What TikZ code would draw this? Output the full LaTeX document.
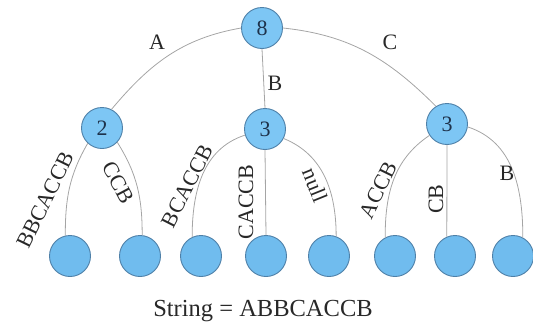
\documentclass[tikz,border=0pt]{standalone}
\usepackage{fontspec}
\setmainfont{Liberation Serif}
\definecolor{nodefill}{RGB}{125,198,244}
\definecolor{leaffill}{RGB}{112,188,238}
\definecolor{nodeline}{RGB}{78,128,168}
\definecolor{edgecol}{RGB}{165,165,165}
\definecolor{numcol}{RGB}{30,50,75}
\definecolor{txtcol}{RGB}{40,40,40}
\begin{document}
\begin{tikzpicture}[x=1pt,y=1pt,
  inner/.style={circle, draw=nodeline, line width=0.9pt, fill=nodefill, minimum size=41pt, inner sep=0pt, font=\fontsize{22}{24}\selectfont, text=numcol},
  leaf/.style={circle, draw=nodeline, line width=0.9pt, fill=leaffill, minimum size=41pt, inner sep=0pt},
  edge/.style={draw=edgecol, line width=0.8pt},
  lbl/.style={inner sep=0pt, font=\fontsize{22}{24}\selectfont, text=txtcol}]
\useasboundingbox (0,0) rectangle (533,-325);
% internal nodes
\node[inner] (root) at (262,-28) {8};
\node[inner] (n2) at (102,-128) {2};
\node[inner] (n3m) at (265,-129) {3};
\node[inner] (n3r) at (447,-124) {3};
% leaves
\node[leaf] (l1) at (70,-256) {};
\node[leaf] (l2) at (140,-256) {};
\node[leaf] (l3) at (201,-256) {};
\node[leaf] (l4) at (266,-256) {};
\node[leaf] (l5) at (329,-256) {};
\node[leaf] (l6) at (395,-256) {};
\node[leaf] (l7) at (455,-256) {};
\node[leaf] (l8) at (513,-256) {};
% edges
\draw[edge] (root.west) to[out=190, in=50] (n2.63);
\draw[edge] (root.south) -- (n3m.north);
\draw[edge] (root.east) to[out=-6, in=135] (n3r.122);
\draw[edge] (n2.227) to[out=240, in=90] (l1.103);
\draw[edge] (n2.317) to[out=-58, in=90] (l2.84);
\draw[edge] (n3m.197) to[out=198, in=90] (l3.115);
\draw[edge] (n3m.south) -- (l4.north);
\draw[edge] (n3m.333) to[out=-22, in=90] (l5.70);
\draw[edge] (n3r.213) to[out=214, in=90] (l6.118);
\draw[edge] (n3r.south) -- (l7.113);
\draw[edge] (n3r.352) to[out=-18, in=90] (l8.62);
% labels
\node[lbl] (la) at (157,-42) {A};
\node[lbl] (lb) at (275,-83) {B};
\node[lbl] (lc) at (390,-42) {C};
\node[lbl, rotate=64] (t1) at (45,-200) {BBCACCB};
\node[lbl, rotate=-62] (t2) at (118,-183) {CCB};
\node[lbl, rotate=63] (t3) at (187,-186) {BCACCB};
\node[lbl, rotate=90] (t4) at (246,-202) {CACCB};
\node[lbl, rotate=-68] (t5) at (315,-185) {null};
\node[lbl, rotate=64] (t6) at (378,-190) {ACCB};
\node[lbl, rotate=90] (t7) at (436,-199) {CB};
\node[lbl] (t8) at (507,-173) {B};
\node[lbl, anchor=base, font=\fontsize{24.5}{26}\selectfont] (str) at (263,-316) {String = ABBCACCB};
\end{tikzpicture}
\end{document}
